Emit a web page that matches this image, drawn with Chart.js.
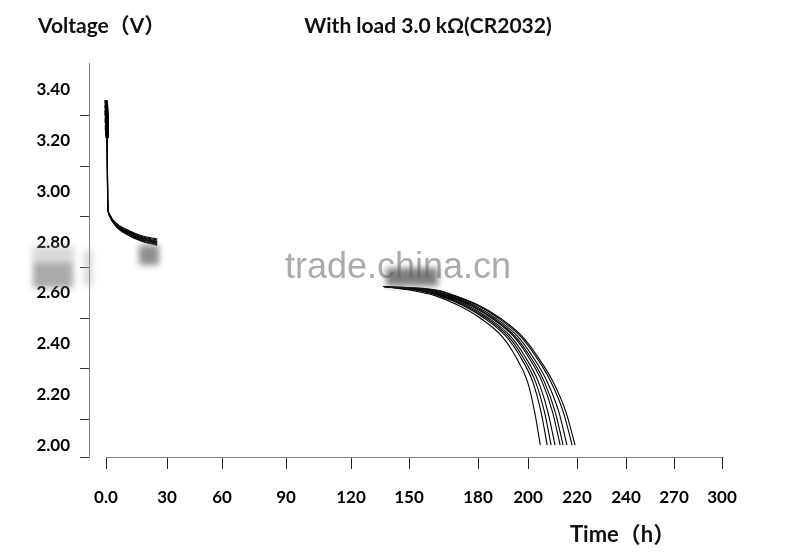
<!DOCTYPE html>
<html>
<head>
<meta charset="utf-8">
<script src="https://cdn.jsdelivr.net/npm/chart.js@4/dist/chart.umd.min.js"></script>
<style>
  html, body { margin: 0; padding: 0; background: #fff; }
  #wrap { width: 797px; height: 559px; position: relative; }
</style>
</head>
<body>
<div id="wrap"><canvas id="discharge"></canvas></div>
<script>
// x axis (hours) - the original axis is hand spaced, so the gaps are uneven
const xTickValues = [0, 30, 60, 90, 120, 150, 180, 200, 220, 240, 270, 300];
const xTickLabels = ['0.0', '30', '60', '90', '120', '150', '180', '200', '220', '240', '270', '300'];
const xGapPx = [61, 55, 64, 65, 58, 69, 50, 49, 49, 48, 48];
const xLeadPx = 17;

// y axis (volts)
const yMin = 1.953;
const yMax = 3.506;
const yLabelValues = [2.0, 2.2, 2.4, 2.6, 2.8, 3.0, 3.2, 3.4];
const yLabelTexts = ['2.00', '2.20', '2.40', '2.60', '2.80', '3.00', '3.20', '3.40'];
const yMarkValues = [2.1, 2.3, 2.5, 2.7, 2.9, 3.1, 3.3];

// first part of the discharge: hours and volts of each cell
const tStart = [0, 0.6, 0.8, 1.5, 3, 6, 11, 17, 25];
const vStart1 = [3.36, 3.25, 2.970, 2.915, 2.892, 2.868, 2.846, 2.826, 2.812];
const vStart2 = [3.34, 3.24, 2.965, 2.913, 2.890, 2.865, 2.843, 2.822, 2.808];
const vStart3 = [3.32, 3.24, 2.960, 2.912, 2.888, 2.862, 2.840, 2.819, 2.804];
const vStart4 = [3.31, 3.23, 2.960, 2.911, 2.887, 2.860, 2.837, 2.816, 2.800];
const vStart5 = [3.29, 3.23, 2.955, 2.910, 2.886, 2.858, 2.834, 2.813, 2.797];
const vStart6 = [3.28, 3.22, 2.955, 2.909, 2.885, 2.856, 2.832, 2.810, 2.794];
const vStart7 = [3.26, 3.22, 2.950, 2.908, 2.884, 2.854, 2.829, 2.807, 2.790];
const vStart8 = [3.25, 3.21, 2.950, 2.907, 2.882, 2.852, 2.826, 2.804, 2.787];

// end of the discharge: hour at which each cell reaches these volts
const vEnd = [2.625, 2.61, 2.59, 2.55, 2.50, 2.43, 2.35, 2.25, 2.13, 2.00];
const tEnd1 = [137, 151.0, 161.5, 172.0, 181.0, 189.5, 195.0, 199.8, 202.7, 205.0];
const tEnd2 = [137, 153.4, 163.2, 173.7, 182.6, 191.1, 196.8, 201.9, 205.3, 207.8];
const tEnd3 = [137, 154.7, 164.1, 174.6, 183.5, 192.0, 197.7, 203.0, 206.7, 209.4];
const tEnd4 = [137, 156.0, 165.1, 175.6, 184.4, 192.9, 198.7, 204.2, 208.1, 211.0];
const tEnd5 = [137, 157.8, 166.3, 176.8, 185.6, 194.1, 200.0, 205.7, 210.0, 213.1];
const tEnd6 = [137, 158.9, 167.1, 177.6, 186.2, 194.7, 200.8, 206.6, 211.1, 214.3];
const tEnd7 = [137, 160.2, 168.0, 178.5, 187.2, 195.7, 201.8, 207.8, 212.6, 215.9];
const tEnd8 = [137, 162.0, 169.3, 179.8, 188.3, 196.8, 203.1, 209.3, 214.4, 218.0];
const tEnd9 = [137, 163.0, 170.0, 180.5, 189.0, 197.5, 203.8, 210.2, 215.5, 219.2];

const font = 'Lato, "Noto Sans CJK SC", "DejaVu Sans", sans-serif';

// knot positions along the axis, joined by a smooth monotone curve
const knotPx = [xLeadPx];
xGapPx.forEach((g, i) => knotPx.push(knotPx[i] + g));
const axisPx = knotPx[knotPx.length - 1];
const secant = xGapPx.map((g, i) => g / (xTickValues[i + 1] - xTickValues[i]));
const tangent = knotPx.map((p, k) => {
    if (k === 0) return secant[0];
    if (k === secant.length) return secant[k - 1];
    return 2 / (1 / secant[k - 1] + 1 / secant[k]);
});

function hourToPx(v) {
    const n = xTickValues.length - 1;
    if (v <= xTickValues[0]) return knotPx[0] + (v - xTickValues[0]) * tangent[0];
    if (v >= xTickValues[n]) return knotPx[n] + (v - xTickValues[n]) * tangent[n];
    let i = 0;
    while (v > xTickValues[i + 1]) i++;
    const h = xTickValues[i + 1] - xTickValues[i];
    const s = (v - xTickValues[i]) / h;
    const s2 = s * s, s3 = s2 * s;
    return (2 * s3 - 3 * s2 + 1) * knotPx[i] + (s3 - 2 * s2 + s) * h * tangent[i]
        + (-2 * s3 + 3 * s2) * knotPx[i + 1] + (s3 - s2) * h * tangent[i + 1];
}

function pxToHour(p) {
    let lo = -50, hi = 350;
    for (let k = 0; k < 50; k++) {
        const mid = (lo + hi) / 2;
        if (hourToPx(mid) < p) lo = mid; else hi = mid;
    }
    return (lo + hi) / 2;
}

class HandSpacedScale extends Chart.LinearScale {
    getPixelForValue(value) {
        return this.getPixelForDecimal(hourToPx(value) / axisPx);
    }
    getValueForPixel(pixel) {
        return pxToHour(this.getDecimalForPixel(pixel) * axisPx);
    }
}
HandSpacedScale.id = 'handSpaced';
HandSpacedScale.defaults = {};
Chart.register(HandSpacedScale);

function curve(ts, vs) {
    return {
        data: ts.map((t, i) => ({ x: t, y: vs[i] })),
        borderColor: '#000',
        borderWidth: 1.1,
        pointRadius: 0,
        fill: false,
        cubicInterpolationMode: 'monotone',
        // the opening voltage spike is drawn as a heavy bar in the original
        segment: { borderWidth: (ctx) => (ctx.p0DataIndex === 0 && ts[0] === 0) ? 3.5 : undefined }
    };
}

const datasets = [
    curve(tStart, vStart1), curve(tStart, vStart2), curve(tStart, vStart3), curve(tStart, vStart4),
    curve(tStart, vStart5), curve(tStart, vStart6), curve(tStart, vStart7), curve(tStart, vStart8),
    curve(tEnd1, vEnd), curve(tEnd2, vEnd), curve(tEnd3, vEnd), curve(tEnd4, vEnd), curve(tEnd5, vEnd),
    curve(tEnd6, vEnd), curve(tEnd7, vEnd), curve(tEnd8, vEnd), curve(tEnd9, vEnd)
];

const isLabelTick = (v) => yLabelValues.some(l => Math.abs(l - v) < 1e-6);

// axis titles, x axis line, watermark and the blurred patches of the original
const decorations = {
    id: 'decorations',
    afterDraw(chart) {
        const { ctx, chartArea, scales } = chart;
        ctx.save();
        ctx.strokeStyle = '#808080';
        ctx.lineWidth = 1;
        ctx.beginPath();
        const x0 = Math.round(scales.x.getPixelForValue(0));
        ctx.moveTo(x0, chartArea.bottom + 0.5);
        ctx.lineTo(chartArea.right, chartArea.bottom + 0.5);
        ctx.stroke();

        ctx.fillStyle = '#111';
        ctx.font = 'bold 21px ' + font;
        ctx.textBaseline = 'alphabetic';
        ctx.textAlign = 'left';
        ctx.fillText('Voltage（V）', 38, 33);
        ctx.textAlign = 'center';
        ctx.fillText('With load 3.0 kΩ(CR2032)', 428, 33);
        ctx.textAlign = 'left';
        ctx.font = 'bold 22px ' + font;
        ctx.fillText('Time（h）', 570, 542);

        ctx.fillStyle = 'rgba(150,150,150,0.8)';
        ctx.font = '36px "Liberation Sans", Arial, sans-serif';
        ctx.fillText('trade.china.cn', 285, 278);

        ctx.filter = 'blur(3px)';
        ctx.fillStyle = 'rgba(170,170,170,0.45)';
        ctx.fillRect(32, 246, 42, 16);
        ctx.fillStyle = 'rgba(100,100,100,0.55)';
        ctx.fillRect(33, 262, 40, 26);
        ctx.fillStyle = 'rgba(175,175,175,0.5)';
        ctx.fillRect(84, 250, 8, 36);
        ctx.fillStyle = 'rgba(115,115,115,0.8)';
        ctx.fillRect(139, 245, 20, 20);
        ctx.fillStyle = 'rgba(95,95,95,0.8)';
        ctx.fillRect(386, 268, 52, 18);
        ctx.restore();
    }
};

new Chart(document.getElementById('discharge'), {
    type: 'line',
    data: { datasets },
    plugins: [decorations],
    options: {
        responsive: true,
        maintainAspectRatio: false,
        animation: false,
        layout: { padding: { top: 63, right: 75, left: 0, bottom: 0 } },
        plugins: { legend: { display: false }, tooltip: { enabled: false }, title: { display: false } },
        scales: {
            x: {
                type: 'handSpaced',
                min: -8.4,
                max: 300,
                afterBuildTicks: (scale) => { scale.ticks = xTickValues.map(v => ({ value: v })); },
                afterFit: (scale) => { scale.height = 102; },
                border: { display: false },
                grid: { drawOnChartArea: false, drawTicks: true, tickLength: 12, color: '#222', lineWidth: 1 },
                ticks: {
                    autoSkip: false,
                    maxRotation: 0,
                    padding: 18,
                    color: '#000',
                    font: { family: font, size: 17, weight: 'bold' },
                    callback: (value, index) => xTickLabels[index]
                }
            },
            y: {
                type: 'linear',
                min: yMin,
                max: yMax,
                afterBuildTicks: (scale) => {
                    scale.ticks = [yMin, ...yMarkValues, ...yLabelValues]
                        .sort((a, b) => a - b)
                        .map(v => ({ value: v }));
                },
                afterFit: (scale) => { scale.width = 89; },
                border: { display: true, color: '#808080', width: 1 },
                grid: {
                    drawOnChartArea: false,
                    drawTicks: true,
                    tickLength: 9,
                    lineWidth: 1,
                    color: (ctx) => (ctx.tick && isLabelTick(ctx.tick.value)) ? 'rgba(0,0,0,0)' : '#333'
                },
                ticks: {
                    autoSkip: false,
                    padding: 10,
                    color: '#000',
                    font: { family: font, size: 17, weight: 'bold' },
                    callback: (value) => {
                        const i = yLabelValues.findIndex(l => Math.abs(l - value) < 1e-6);
                        return i >= 0 ? yLabelTexts[i] : '';
                    }
                }
            }
        }
    }
});
</script>
</body>
</html>
